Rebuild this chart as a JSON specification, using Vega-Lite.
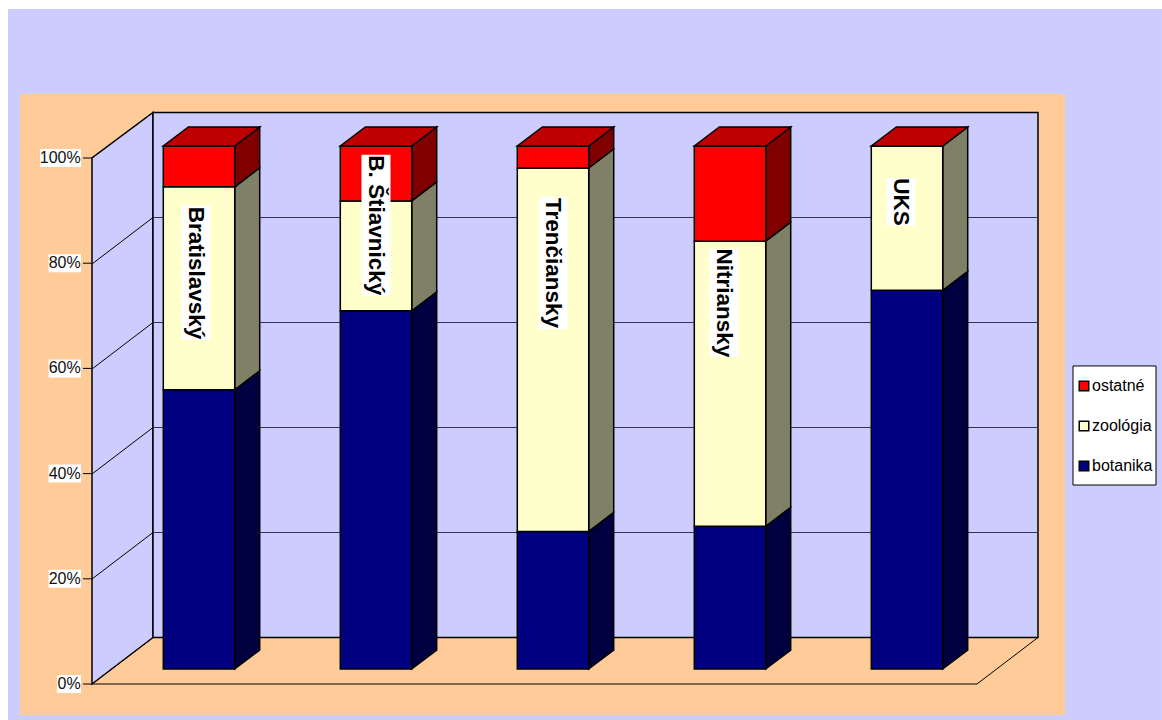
{"$schema":"https://vega.github.io/schema/vega-lite/v6.json","width":885,"height":526,"autosize":{"type":"none"},"padding":{"left":92,"top":158,"right":185,"bottom":36},"background":"white","config":{"view":{"stroke":null},"font":"Liberation Sans"},"datasets":{"bars":[{"region":"Bratislavský","i":0,"series":"botanika","order":1,"value":53.4},{"region":"Bratislavský","i":0,"series":"zoológia","order":2,"value":38.8},{"region":"Bratislavský","i":0,"series":"ostatné","order":3,"value":7.8},{"region":"B. Štiavnický","i":1,"series":"botanika","order":1,"value":68.5},{"region":"B. Štiavnický","i":1,"series":"zoológia","order":2,"value":21},{"region":"B. Štiavnický","i":1,"series":"ostatné","order":3,"value":10.5},{"region":"Trenčiansky","i":2,"series":"botanika","order":1,"value":26.3},{"region":"Trenčiansky","i":2,"series":"zoológia","order":2,"value":69.5},{"region":"Trenčiansky","i":2,"series":"ostatné","order":3,"value":4.2},{"region":"Nitriansky","i":3,"series":"botanika","order":1,"value":27.3},{"region":"Nitriansky","i":3,"series":"zoológia","order":2,"value":54.5},{"region":"Nitriansky","i":3,"series":"ostatné","order":3,"value":18.2},{"region":"UKS","i":4,"series":"botanika","order":1,"value":72.4},{"region":"UKS","i":4,"series":"zoológia","order":2,"value":27.6},{"region":"UKS","i":4,"series":"ostatné","order":3,"value":0}],"ticks":[{"tick":0,"text":"0%"},{"tick":20,"text":"20%"},{"tick":40,"text":"40%"},{"tick":60,"text":"60%"},{"tick":80,"text":"80%"},{"tick":100,"text":"100%"}],"corners":[{"depth":0},{"depth":1}],"labels":[{"label":"Bratislavský","i":0,"shift":-0.017,"from":65.4,"to":90.9},{"label":"B. Štiavnický","i":1,"shift":0,"from":73.8,"to":100.6},{"label":"Trenčiansky","i":2,"shift":0,"from":67.5,"to":92.6},{"label":"Nitriansky","i":3,"shift":-0.034,"from":62.2,"to":82.7},{"label":"UKS","i":4,"shift":-0.034,"from":87.1,"to":96.2}]},"layer":[{"data":{"values":[{"panel":"chart area"}]},"mark":{"type":"rect","fill":"#CCCCFF"},"encoding":{"x":{"datum":-0.4746,"type":"quantitative","scale":{"domain":[0,5]},"axis":null},"x2":{"datum":6.045},"y":{"datum":-6.844,"type":"quantitative","scale":{"domain":[0,100]},"axis":null},"y2":{"datum":128.33}}},{"data":{"values":[{"panel":"plot area"}]},"mark":{"type":"rect","fill":"#FFCC99"},"encoding":{"x":{"datum":-0.4068,"type":"quantitative","scale":{"domain":[0,5]},"axis":null},"x2":{"datum":5.497},"y":{"datum":-5.894,"type":"quantitative","scale":{"domain":[0,100]},"axis":null},"y2":{"datum":112.17}}},{"data":{"name":"corners"},"transform":[{"calculate":"datum.depth*0.3446","as":"xa"},{"calculate":"5+datum.depth*0.3446","as":"xb"},{"calculate":"datum.depth*8.84","as":"ya"}],"mark":{"type":"area","orient":"horizontal","fill":"#FFCC99","stroke":"black","strokeWidth":1},"encoding":{"y":{"field":"ya","type":"quantitative","stack":null,"scale":{"domain":[0,100]},"axis":null},"x":{"field":"xa","type":"quantitative","scale":{"domain":[0,5]},"axis":null},"x2":{"field":"xb"}}},{"data":{"name":"corners"},"transform":[{"calculate":"datum.depth*0.3446","as":"xa"},{"calculate":"datum.depth*8.84","as":"ya"},{"calculate":"100+datum.depth*8.65","as":"yb"}],"mark":{"type":"area","orient":"vertical","fill":"#CCCCFF","stroke":"black","strokeWidth":1.5},"encoding":{"x":{"field":"xa","type":"quantitative","scale":{"domain":[0,5]},"axis":null},"y":{"field":"ya","type":"quantitative","stack":null,"scale":{"domain":[0,100]},"axis":null},"y2":{"field":"yb"}}},{"data":{"values":[{"panel":"back wall"}]},"mark":{"type":"rect","fill":"#CCCCFF","stroke":"black","strokeWidth":1.5},"encoding":{"x":{"datum":0.3446,"type":"quantitative","scale":{"domain":[0,5]},"axis":null},"x2":{"datum":5.3446},"y":{"datum":8.84,"type":"quantitative","scale":{"domain":[0,100]},"axis":null},"y2":{"datum":108.65}}},{"data":{"name":"ticks"},"transform":[{"filter":"datum.tick>0 && datum.tick<100"},{"calculate":"[0,1]","as":"depth"},{"flatten":["depth"]},{"calculate":"datum.depth*0.3446","as":"xa"},{"calculate":"datum.tick*0.9981+datum.depth*8.84","as":"ya"}],"mark":{"type":"line","color":"black","strokeWidth":1},"encoding":{"x":{"field":"xa","type":"quantitative","scale":{"domain":[0,5]},"axis":null},"y":{"field":"ya","type":"quantitative","scale":{"domain":[0,100]},"axis":null},"detail":{"field":"tick"}}},{"data":{"name":"ticks"},"transform":[{"filter":"datum.tick>0 && datum.tick<100"},{"calculate":"datum.tick*0.9981+8.84","as":"ya"}],"mark":{"type":"rule","color":"#333355","strokeWidth":1},"encoding":{"x":{"datum":0.3446,"type":"quantitative","scale":{"domain":[0,5]},"axis":null},"x2":{"datum":5.3446},"y":{"field":"ya","type":"quantitative","scale":{"domain":[0,100]},"axis":null}}},{"data":{"name":"ticks"},"transform":[{"calculate":"datum.text.length","as":"len"},{"calculate":"-0.062-(datum.len*8.5+7)/177","as":"xa"},{"calculate":"datum.tick-1.71","as":"ya"},{"calculate":"datum.tick+1.71","as":"yb"}],"mark":{"type":"rect","fill":"white"},"encoding":{"x":{"field":"xa","type":"quantitative","scale":{"domain":[0,5]},"axis":null},"x2":{"datum":-0.062},"y":{"field":"ya","type":"quantitative","scale":{"domain":[0,100]},"axis":null},"y2":{"field":"yb"}}},{"data":{"name":"ticks"},"mark":{"type":"rule","color":"black","strokeWidth":1},"encoding":{"x":{"datum":-0.0508,"type":"quantitative","scale":{"domain":[0,5]},"axis":null},"x2":{"datum":0},"y":{"field":"tick","type":"quantitative","scale":{"domain":[0,100]},"axis":null}}},{"data":{"name":"ticks"},"mark":{"type":"text","align":"right","baseline":"middle","font":"Liberation Sans","fontSize":16,"color":"#111111"},"encoding":{"x":{"datum":-0.0636,"type":"quantitative","scale":{"domain":[0,5]},"axis":null},"y":{"field":"tick","type":"quantitative","scale":{"domain":[0,100]},"axis":null},"text":{"field":"text"}}},{"data":{"name":"bars"},"transform":[{"stack":"value","groupby":["region"],"sort":[{"field":"order"}],"as":["v0","v1"]},{"calculate":"[0,1]","as":"depth"},{"flatten":["depth"]},{"calculate":"datum.i+0.8063+datum.depth*0.1412","as":"xa"},{"calculate":"2.85+datum.v0*0.9943+datum.depth*3.61","as":"ya"},{"calculate":"2.85+datum.v1*0.9943+datum.depth*3.61","as":"yb"}],"mark":{"type":"area","orient":"vertical","stroke":"black","strokeWidth":1.5},"encoding":{"x":{"field":"xa","type":"quantitative","scale":{"domain":[0,5]},"axis":null},"y":{"field":"ya","type":"quantitative","stack":null,"scale":{"domain":[0,100]},"axis":null},"y2":{"field":"yb"},"detail":[{"field":"region"},{"field":"series"}],"fill":{"field":"series","type":"nominal","scale":{"domain":["ostatné","zoológia","botanika"],"range":["#800000","#808066","#000040"]},"legend":null}}},{"data":{"name":"bars"},"transform":[{"stack":"value","groupby":["region"],"sort":[{"field":"order"}],"as":["v0","v1"]},{"calculate":"datum.i+0.4028","as":"xa"},{"calculate":"datum.i+0.8063","as":"xb"},{"calculate":"2.85+datum.v0*0.9943","as":"ya"},{"calculate":"2.85+datum.v1*0.9943","as":"yb"}],"mark":{"type":"rect","stroke":"black","strokeWidth":1.5},"encoding":{"x":{"field":"xa","type":"quantitative","scale":{"domain":[0,5]},"axis":null},"x2":{"field":"xb"},"y":{"field":"ya","type":"quantitative","scale":{"domain":[0,100]},"axis":null},"y2":{"field":"yb"},"fill":{"field":"series","type":"nominal","scale":{"domain":["ostatné","zoológia","botanika"],"range":["#FF0000","#FFFFCC","#000080"]},"legend":{"title":null,"orient":"none","legendX":984,"legendY":220,"symbolType":"square","symbolSize":90,"symbolStrokeColor":"black","symbolStrokeWidth":1.5,"labelFontSize":16,"labelColor":"black","labelFont":"Liberation Sans","labelOffset":0,"rowPadding":24,"padding":0}}}},{"data":{"name":"bars"},"transform":[{"filter":"datum.series==='ostatné'"},{"calculate":"[0,1]","as":"depth"},{"flatten":["depth"]},{"calculate":"datum.i+0.4028+datum.depth*0.1412","as":"xa"},{"calculate":"datum.i+0.8063+datum.depth*0.1412","as":"xb"},{"calculate":"2.85+99.43+datum.depth*3.61","as":"ya"}],"mark":{"type":"area","orient":"horizontal","fill":"#BF0000","stroke":"black","strokeWidth":1.5},"encoding":{"y":{"field":"ya","type":"quantitative","stack":null,"scale":{"domain":[0,100]},"axis":null},"x":{"field":"xa","type":"quantitative","scale":{"domain":[0,5]},"axis":null},"x2":{"field":"xb"},"detail":{"field":"region"}}},{"data":{"name":"labels"},"transform":[{"calculate":"datum.i+0.6045+datum.shift-0.082","as":"xa"},{"calculate":"datum.i+0.6045+datum.shift+0.082","as":"xb"}],"mark":{"type":"rect","fill":"white"},"encoding":{"x":{"field":"xa","type":"quantitative","scale":{"domain":[0,5]},"axis":null},"x2":{"field":"xb"},"y":{"field":"from","type":"quantitative","scale":{"domain":[0,100]},"axis":null},"y2":{"field":"to"}}},{"data":{"name":"labels"},"transform":[{"calculate":"datum.i+0.6045+datum.shift","as":"xa"},{"calculate":"(datum.from+datum.to)/2","as":"ya"}],"mark":{"type":"text","angle":90,"align":"center","baseline":"middle","font":"Liberation Sans","fontWeight":"bold","fontSize":22.5,"color":"black"},"encoding":{"x":{"field":"xa","type":"quantitative","scale":{"domain":[0,5]},"axis":null},"y":{"field":"ya","type":"quantitative","scale":{"domain":[0,100]},"axis":null},"text":{"field":"label"}}},{"data":{"values":[{"panel":"legend box"}]},"mark":{"type":"rect","fill":"white","stroke":"black","strokeWidth":1},"encoding":{"x":{"datum":5.5424,"type":"quantitative","scale":{"domain":[0,5]},"axis":null},"x2":{"datum":6.0113},"y":{"datum":37.83,"type":"quantitative","scale":{"domain":[0,100]},"axis":null},"y2":{"datum":60.46}}}],"resolve":{"scale":{"fill":"independent"},"legend":{"fill":"independent"}}}
